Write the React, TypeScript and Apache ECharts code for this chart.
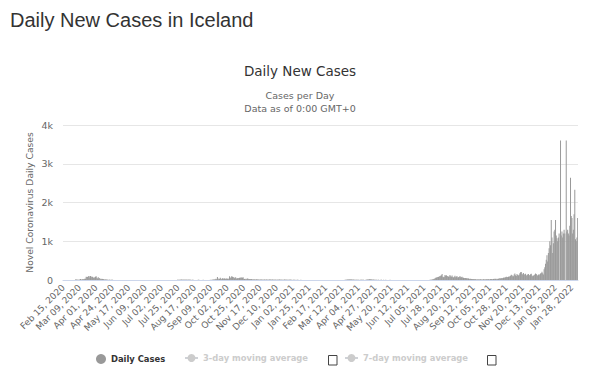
import React, { useEffect, useRef } from "react";
import * as echarts from "echarts";

// Daily new cases, Feb 15 2020 – Feb 5 2022, one array per month
const feb2020 = [0,0,0,0,0,0,0,0,0,0,0,0,0,1,0];
const mar2020 = [2,3,10,10,13,8,5,5,11,24,4,18,20,22,24,30,30,81,79,76,95,105,64,106,89,70,82,60,66,62,82];
const apr2020 = [99,60,39,68,35,52,22,27,32,25,28,11,11,14,12,13,7,9,3,11,2,6,4,8,2,2,2,3,1,0];
const may2020 = [2,0,1,0,0,1,0,0,0,0,0,0,0,0,0,0,0,0,0,0,0,1,0,0,0,0,0,0,0,0,0];
const jun2020 = [0,0,0,0,0,1,0,0,0,0,0,0,0,0,0,2,0,1,2,0,0,3,1,0,2,0,0,1,0,2];
const jul2020 = [1,0,1,0,2,0,1,0,0,1,0,0,1,0,2,0,0,0,1,0,1,2,3,5,4,6,9,7,10,11,8];
const aug2020 = [9,12,8,7,10,9,7,8,12,6,5,4,3,4,5,3,2,3,1,2,3,5,4,2,3,1,2,3,4,2,1];
const sep2020 = [1,2,1,2,3,1,2,4,3,5,8,13,10,14,19,32,19,75,21,38,27,57,32,20,45,33,37,40,33,34];
const oct2020 = [37,30,30,33,99,59,64,94,87,78,62,43,71,56,33,48,49,45,56,52,68,60,55,68,31,26,21,30,20,41,33];
const nov2020 = [26,19,23,19,25,14,13,17,13,11,13,17,13,10,12,9,13,15,14,7,11,8,10,9,12,14,8,11,9,10];
const dec2020 = [12,16,9,12,15,8,5,13,6,7,4,11,9,12,7,10,8,9,5,7,10,6,12,9,5,4,6,8,11,9,7];
const jan2021 = [3,4,8,5,3,6,2,4,5,3,2,1,4,2,3,1,2,1,3,2,0,1,2,1,0,2,1,0,1,2,0];
const feb2021 = [1,0,0,1,2,0,1,0,0,1,0,0,1,0,2,0,0,1,0,0,1,0,2,3,1,0,2,0];
const mar2021 = [0,1,0,1,2,3,1,0,0,1,2,0,1,0,2,5,4,6,10,12,15,13,17,14,12,10,9,11,8,7,6];
const apr2021 = [9,5,6,4,3,6,5,8,6,5,4,3,2,6,7,10,12,14,20,27,15,13,11,9,10,8,7,6,5,3];
const may2021 = [4,5,3,2,6,4,3,2,5,3,2,4,1,2,3,1,2,4,1,0,1,2,0,1,3,0,1,2,0,1,0];
const jun2021 = [0,1,0,0,1,0,0,0,1,0,0,0,0,1,0,0,0,0,0,1,0,0,0,0,0,1,0,0,0,0];
const jul2021 = [0,0,1,0,0,2,0,1,0,1,3,2,4,6,8,10,17,21,35,40,56,59,78,71,80,95,88,112,123,154,84];
const aug2021 = [70,82,128,112,121,104,95,86,92,130,98,85,117,78,63,86,111,73,90,99,64,72,79,101,70,68,86,60,57,52,49];
const sep2021 = [50,48,44,39,36,33,29,31,27,25,23,20,22,25,18,14,16,20,12,15,18,22,13,16,14,17,11,19,15,18];
const oct2021 = [20,17,22,15,18,24,26,19,21,27,30,24,33,22,35,28,31,36,42,39,45,51,48,55,64,60,70,82,74,79,85];
const nov2021 = [92,88,112,135,120,95,98,140,168,122,105,154,130,116,135,172,198,208,160,145,180,135,150,162,110,128,140,156,119,132];
const dec2021 = [146,160,118,95,110,130,142,170,155,128,110,140,125,150,165,180,210,175,145,280,330,420,520,640,480,700,820,1000,900,1550,1100];
const jan2022 = [700,950,1250,1300,1550,1150,1080,1000,1100,1200,0,3600,1150,1250,1100,1200,1300,1200,0,3600,1250,1300,1200,1150,1400,2640,1650,1600,1200,1300,1700];
const feb2022 = [2330,1050,1000,1100,1600];

const dailyCases = [
  ...feb2020, ...mar2020, ...apr2020, ...may2020, ...jun2020, ...jul2020,
  ...aug2020, ...sep2020, ...oct2020, ...nov2020, ...dec2020,
  ...jan2021, ...feb2021, ...mar2021, ...apr2021, ...may2021, ...jun2021,
  ...jul2021, ...aug2021, ...sep2021, ...oct2021, ...nov2021, ...dec2021,
  ...jan2022, ...feb2022,
];

const monthNames = ["Jan","Feb","Mar","Apr","May","Jun","Jul","Aug","Sep","Oct","Nov","Dec"];
const startDay = Date.UTC(2020, 1, 15);
const categories = dailyCases.map((_, i) => {
  const d = new Date(startDay + i * 86400000);
  return `${monthNames[d.getUTCMonth()]} ${String(d.getUTCDate()).padStart(2, "0")}, ${d.getUTCFullYear()}`;
});

const yTickLabels: Record<number, string> = { 0: "0", 1000: "1k", 2000: "2k", 3000: "3k", 4000: "4k" };

const legendNames = ["Daily Cases", "3-day moving average", "7-day moving average"];

const FONT = "DejaVu Sans";

export default function App() {
  const ref = useRef<HTMLDivElement>(null);
  useEffect(() => {
    if (!ref.current) return;
    const chart = echarts.init(ref.current, null, { renderer: "svg" });
    const legendText = { fontFamily: FONT, fontSize: 8.4, fontWeight: "bold" as const, color: "#333" };
    chart.setOption({
      animation: false,
      backgroundColor: "#ffffff",
      title: [
        {
          text: "Daily New Cases in Iceland",
          left: 10,
          top: 8,
          padding: 0,
          textStyle: { fontFamily: "Liberation Sans", fontSize: 20, fontWeight: "normal", color: "#333", lineHeight: 24 },
        },
        {
          text: "Daily New Cases",
          left: "center",
          top: 62.5,
          padding: 0,
          textStyle: { fontFamily: FONT, fontSize: 13.5, fontWeight: "normal", color: "#333", lineHeight: 16 },
        },
        {
          text: "Cases per Day",
          left: "center",
          top: 88.5,
          padding: 0,
          textStyle: { fontFamily: FONT, fontSize: 9.5, fontWeight: "normal", color: "#666", lineHeight: 13 },
        },
        {
          text: "Data as of 0:00 GMT+0",
          left: "center",
          top: 101.8,
          padding: 0,
          textStyle: { fontFamily: FONT, fontSize: 9.5, fontWeight: "normal", color: "#666", lineHeight: 13 },
        },
      ],
      grid: { left: 63, right: 22, top: 125, bottom: 95, containLabel: false },
      xAxis: {
        type: "category",
        data: categories,
        boundaryGap: true,
        axisLine: { lineStyle: { color: "#ccd6eb" } },
        axisTick: { show: false },
        axisLabel: { interval: 22, rotate: 45, fontSize: 9, color: "#666", fontFamily: FONT, margin: 6 },
      },
      yAxis: {
        type: "value",
        min: 0,
        max: 4000,
        interval: 1000,
        axisLine: { show: false },
        axisTick: { show: false },
        splitLine: { lineStyle: { color: "#e6e6e6" } },
        axisLabel: {
          formatter: (v: number) => yTickLabels[v] ?? String(v),
          fontSize: 9.5,
          color: "#666",
          fontFamily: FONT,
          margin: 10,
        },
      },
      legend: [
        {
          data: [{ name: legendNames[0], icon: "circle" }],
          left: 96,
          top: 354,
          padding: 0,
          itemWidth: 10,
          itemHeight: 10,
          textStyle: legendText,
        },
        {
          data: [legendNames[1]],
          left: 184,
          top: 354,
          padding: 0,
          itemWidth: 13,
          itemHeight: 10,
          inactiveColor: "#cccccc",
          selected: { [legendNames[1]]: false },
          textStyle: legendText,
        },
        {
          data: [legendNames[2]],
          left: 344,
          top: 354,
          padding: 0,
          itemWidth: 13,
          itemHeight: 10,
          inactiveColor: "#cccccc",
          selected: { [legendNames[2]]: false },
          textStyle: legendText,
        },
      ],
      series: [
        {
          name: legendNames[0],
          type: "bar",
          data: dailyCases,
          barCategoryGap: "15%",
          itemStyle: { color: "#999999" },
        },
        { name: legendNames[1], type: "line", data: [], symbol: "circle", itemStyle: { color: "#999999" } },
        { name: legendNames[2], type: "line", data: [], symbol: "circle", itemStyle: { color: "#999999" } },
      ],
      graphic: [
        {
          type: "text",
          x: 29,
          y: 202.5,
          rotation: Math.PI / 2,
          style: {
            text: "Novel Coronavirus Daily Cases",
            fontFamily: FONT,
            fontSize: 9.2,
            fill: "#666",
            align: "center",
            verticalAlign: "middle",
          },
        },
        { type: "rect", shape: { x: 328.5, y: 355.5, width: 8.5, height: 9.5 }, style: { fill: "#fff", stroke: "#444", lineWidth: 1 } },
        { type: "rect", shape: { x: 487.5, y: 355.5, width: 8.5, height: 9.5 }, style: { fill: "#fff", stroke: "#444", lineWidth: 1 } },
      ],
    });
    return () => chart.dispose();
  }, []);
  return (
    <div
      ref={ref}
      style={{ position: "absolute", left: 0, top: 0, width: 600, height: 375, background: "#fff" }}
    />
  );
}
